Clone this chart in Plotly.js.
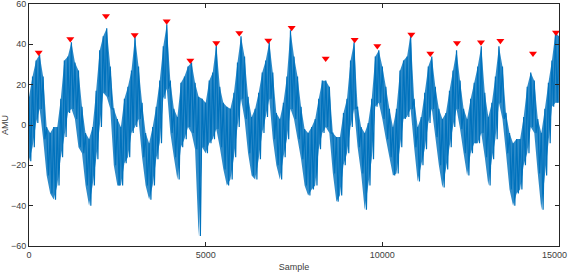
<!DOCTYPE html>
<html><head><meta charset="utf-8">
<script src="https://cdn.plot.ly/plotly-3.0.1.min.js"></script>
<style>html,body{margin:0;padding:0;background:#fff}#chart{width:570px;height:274px}</style>
</head><body><div id="chart"></div>
<script>
// Signal band: upper and lower extent of the trace every 100 samples
const sampleStep = 100;
const signalHigh = [
  14, 24, 32, 35, 24, -1, -4, -1, -1, 13,
  32, 34, 41, 31, 27, 9, -4, -7, -1, 17,
  37, 44, 48, 29, 8, 3, -1, 13, 19, 27,
  44, 29, 11, -4, -9, -1, 9, 22, 39, 50,
  22, 8, 4, 21, 24, 29, 31, 21, 14, 13,
  11, 22, 26, 40, 19, 11, 9, 8, 16, 31,
  44, 34, 14, 4, 8, 16, 26, 32, 41, 26,
  6, 3, 11, 24, 47, 34, 24, 9, -2, -4,
  -1, 3, 13, 22, 22, 19, -4, -6, -6, 6,
  13, 32, 41, 9, -1, -4, 1, 13, 34, 37,
  29, 19, 8, -1, 8, 27, 32, 34, 45, 13,
  -1, 4, 16, 29, 34, 19, 8, 3, 6, 17,
  27, 37, 22, 8, 3, 13, 21, 29, 39, 16,
  4, 11, 24, 39, 29, 6, -4, -9, -7, -7,
  4, 19, 26, 22, 3, -4, 8, 21, 32, 46,
  44
];
const signalLow = [
  -18, -11, 1, 8, -7, -25, -34, -37, -30, -16,
  -6, 6, 8, 3, -11, -14, -30, -40, -30, -17,
  -1, 16, 14, 8, -20, -30, -30, -19, -16, -4,
  -1, 3, -16, -30, -37, -30, -17, -9, 13, 18,
  -4, -16, -27, -11, -7, -1, -4, -12, -55, -11,
  -14, -9, -7, -2, -11, -22, -30, -27, -16, -1,
  13, 3, -14, -25, -27, -17, -4, 4, 13, -7,
  -20, -27, -16, -7, 8, 3, -7, -17, -30, -35,
  -32, -30, -12, -4, -1, -4, -24, -38, -35, -20,
  -14, -1, 8, -11, -24, -42, -30, -17, 9, 11,
  3, -7, -16, -25, -24, -11, 3, 4, 8, -11,
  -28, -20, -12, 1, 8, -6, -20, -31, -22, -11,
  -1, 8, -2, -14, -25, -14, -9, -9, -4, -16,
  -30, -17, -7, 11, 3, -14, -32, -40, -34, -32,
  -20, -14, -1, -4, -24, -42, -25, -9, 9, 11,
  11
];
// Detected peaks
const peakSample = [274, 1169, 2179, 2991, 3897, 4566, 5301, 5952, 6773, 7434,
                    8397, 9217, 9858, 10821, 11358, 12113, 12792, 13340, 14264, 14915];
const peakValue = [36.0, 42.6, 54.0, 44.6, 51.4, 32.0, 40.7, 45.6, 41.9, 48.2,
                   33.0, 42.3, 39.2, 44.9, 35.4, 40.7, 41.0, 41.8, 35.5, 45.9];
const xTicks = [0, 5000, 10000, 15000];
const xTickText = ['0', '5000', '10000', ''];
const yTicks = [-60, -40, -20, 0, 20, 40, 60];

const envX = signalHigh.map((_, i) => i * sampleStep);
// Trace drawn as alternating high/low readings
const sx = [], sy = [];
for (let i = 0; i < signalHigh.length; i++) {
  sx.push(i * sampleStep); sy.push(signalHigh[i]);
  sx.push(i * sampleStep + sampleStep / 2); sy.push(signalLow[i]);
}

const font = {family: 'Liberation Sans, Arial, sans-serif', size: 9, color: '#404040'};
const axisCommon = {
  showgrid: false, zeroline: false, showline: true, linecolor: '#262626', linewidth: 1,
  mirror: 'ticks', ticks: 'inside', ticklen: 4, tickwidth: 1, tickcolor: '#262626',
  tickfont: font, ticklabeloverflow: 'allow'
};
Plotly.newPlot('chart', [
  {x: envX, y: signalLow, type: 'scatter', mode: 'lines', line: {width: 0, color: 'rgba(0,0,0,0)', simplify: false}, hoverinfo: 'skip'},
  {x: envX, y: signalHigh, type: 'scatter', mode: 'lines', fill: 'tonexty', fillcolor: 'rgba(0,114,189,0.82)',
   line: {width: 0, color: 'rgba(0,0,0,0)', simplify: false}, hoverinfo: 'skip'},
  {x: sx, y: sy, type: 'scatter', mode: 'lines', line: {color: '#0072BD', width: 1.2, simplify: false}, hoverinfo: 'skip'},
  {x: peakSample, y: peakValue, type: 'scatter', mode: 'markers',
   marker: {symbol: 'triangle-down', color: '#ff0000', size: 7}}
], {
  width: 570, height: 274, showlegend: false,
  paper_bgcolor: '#fff', plot_bgcolor: '#fff',
  margin: {l: 29, r: 11, t: 4, b: 28},
  xaxis: Object.assign({}, axisCommon, {range: [0, 15000], tickvals: xTicks, ticktext: xTickText,
    title: {text: 'Sample', font: font, standoff: 4}}),
  yaxis: Object.assign({}, axisCommon, {range: [-60, 60], tickvals: yTicks,
    title: {text: 'AMU', font: font, standoff: 2}}),
  annotations: [{text: String(xTicks[3]), x: xTicks[3], xref: 'x', y: 0, yref: 'paper',
    xanchor: 'right', yanchor: 'top', xshift: 10, yshift: -2, showarrow: false, font: font}]
}, {staticPlot: true});
</script></body></html>
